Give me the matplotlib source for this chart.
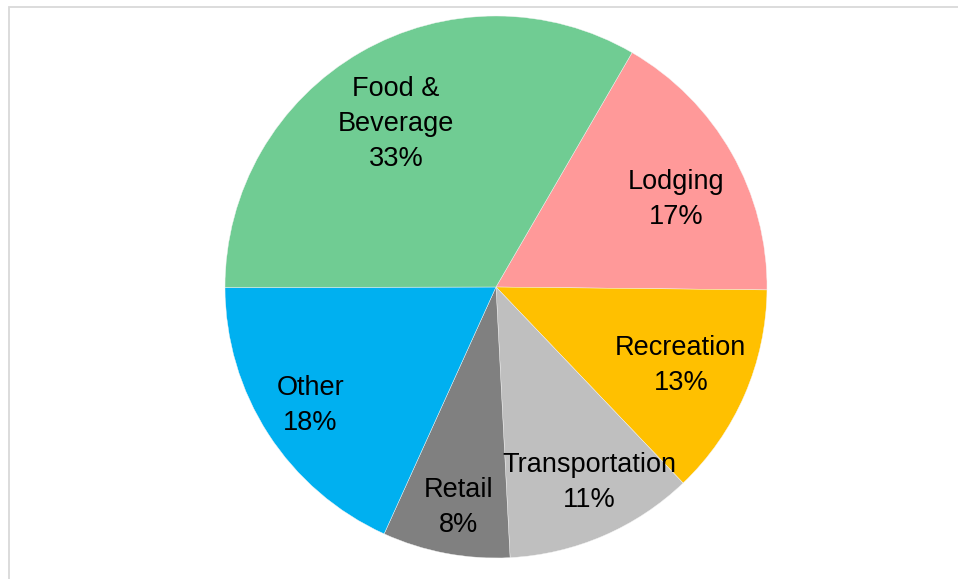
import numpy as np
import matplotlib
matplotlib.use("Agg")
import matplotlib.pyplot as plt
from matplotlib.patches import Rectangle

categories = ["Lodging", "Recreation", "Transportation", "Retail", "Other", "Food &\nBeverage"]
shares = [16.8, 12.7, 11.3, 7.6, 18.2, 33.4]
colors = ["#FF9999", "#FFC000", "#BFBFBF", "#808080", "#00B0F0", "#70CC93"]
# label placement (radial distance as fraction of radius, angular nudge in degrees)
label_dist = [0.739, 0.741, 0.799, 0.827, 0.812, 0.706]
label_nudge = [-3.6, 0.5, 2.3, 1.0, -0.3, 1.5]

W, H = 958, 579
fig = plt.figure(figsize=(W / 100, H / 100), dpi=100)
fig.patch.set_facecolor("white")

# chart-area border
fig.patches.append(Rectangle((9 / W, -0.2), 1.2, 1.2 - 7 / H, transform=fig.transFigure,
                             fill=False, edgecolor="#D9D9D9", linewidth=1.3, zorder=0))

cx, cy, R = 496, 287, 271
ax = fig.add_axes([(cx - R) / W, (H - cy - R) / H, 2 * R / W, 2 * R / H])
wedges, _ = ax.pie(shares, colors=colors, startangle=59.86, counterclock=False,
                   wedgeprops=dict(linewidth=0.3, edgecolor="#F4F4F4"))
ax.set_xlim(-1, 1)
ax.set_ylim(-1, 1)
ax.set_aspect("equal")
ax.axis("off")

for w, cat, s, d, n in zip(wedges, categories, shares, label_dist, label_nudge):
    mid = np.deg2rad((w.theta1 + w.theta2) / 2 + n)
    ax.text(d * np.cos(mid), d * np.sin(mid), f"{cat}\n{round(s):d}%", ha="center", va="center",
            fontsize=19.5, family="Liberation Sans", color="black", linespacing=1.45)

fig.savefig("out.png", dpi=100)
